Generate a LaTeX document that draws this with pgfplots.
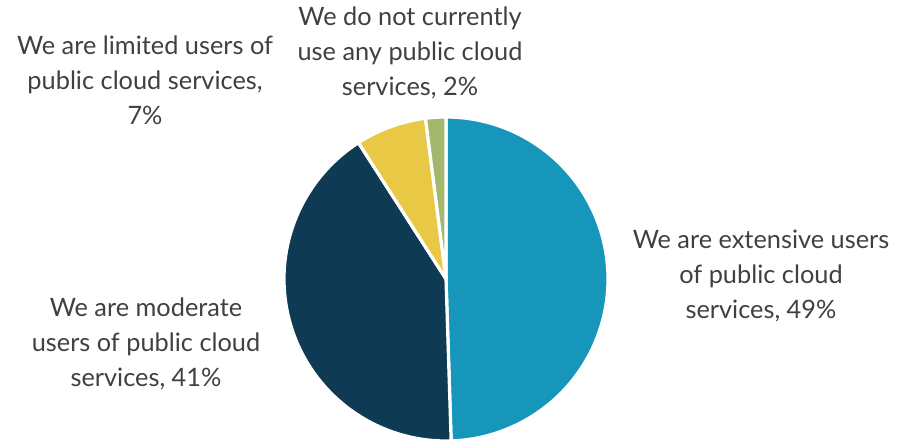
\documentclass[border=0pt]{standalone}
\usepackage{pgfplots}
\pgfplotsset{compat=1.18}
\usepackage{fontspec}
\setmainfont{Lato}
\definecolor{cExt}{HTML}{1596BA}
\definecolor{cMod}{HTML}{0E3B53}
\definecolor{cLim}{HTML}{E9C845}
\definecolor{cNone}{HTML}{A3B86C}
\definecolor{txt}{HTML}{404040}
\tikzset{lbl/.style={align=center, text=txt, font=\fontsize{19}{26.25}\selectfont, inner sep=0pt}}
% shares (percent)
\def\vExt{49}\def\vMod{41}\def\vLim{7}\def\vNone{2}
\pgfmathsetmacro{\tot}{\vExt+\vMod+\vLim+\vNone}
\pgfmathsetmacro{\aA}{90}
\pgfmathsetmacro{\aB}{\aA-360*(\vExt/\tot)}
\pgfmathsetmacro{\aC}{\aB-360*(\vMod/\tot)}
\pgfmathsetmacro{\aD}{\aC-360*(\vLim/\tot)}
\pgfmathsetmacro{\aE}{\aD-360*(\vNone/\tot)}
\begin{document}
\begin{tikzpicture}
\begin{axis}[
  scale only axis, width=673.5pt, height=331.5pt,
  xmin=0, xmax=898, ymin=0, ymax=442,
  hide axis, clip=false,
  every axis plot/.append style={draw=white, line width=2.4pt, line join=round}
]
\addplot[fill=cExt, domain=\aB:\aA, samples=90, variable=\t] ({446+162*cos(\t)},{163+162*sin(\t)}) -- (axis cs:446,163) -- cycle;
\addplot[fill=cMod, domain=\aC:\aB, samples=80, variable=\t] ({446+162*cos(\t)},{163+162*sin(\t)}) -- (axis cs:446,163) -- cycle;
\addplot[fill=cLim, domain=\aD:\aC, samples=20, variable=\t] ({446+162*cos(\t)},{163+162*sin(\t)}) -- (axis cs:446,163) -- cycle;
\addplot[fill=cNone, domain=\aE:\aD, samples=10, variable=\t] ({446+162*cos(\t)},{163+162*sin(\t)}) -- (axis cs:446,163) -- cycle;
\node[lbl] at (axis cs:761,166) {We are extensive users\\of public cloud\\services, 49\%};
\node[lbl] at (axis cs:146,98) {We are moderate\\users of public cloud\\services, 41\%};
\node[lbl] at (axis cs:145,362) {We are limited users of\\public cloud services,\\7\%};
\node[lbl] at (axis cs:410,389) {We do not currently\\use any public cloud\\services, 2\%};
\end{axis}
\pgfresetboundingbox
\useasboundingbox (current axis.south west) rectangle (current axis.north east);
\end{tikzpicture}
\end{document}
